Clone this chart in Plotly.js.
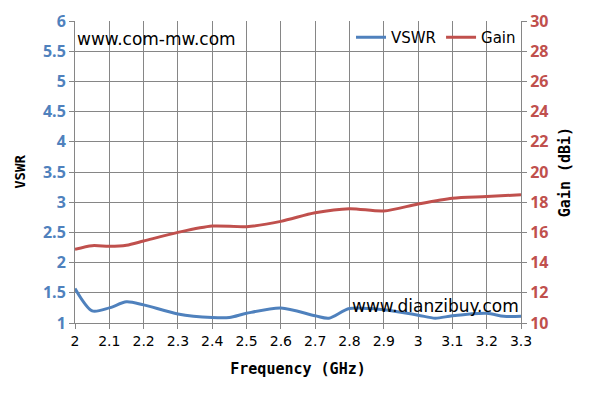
<!DOCTYPE html>
<html><head><meta charset="utf-8">
<script src="https://cdn.plot.ly/plotly-3.0.1.min.js"></script>
<style>html,body{margin:0;padding:0;background:#fff}#c{width:595px;height:404px}</style>
</head><body><div id="c"></div>
<script>
const freqVswr = [2.0, 2.05, 2.1, 2.15, 2.2, 2.3, 2.4, 2.45, 2.5, 2.6, 2.7, 2.74, 2.8, 2.9, 3.0, 3.05, 3.1, 3.2, 3.25, 3.3];
const vswr     = [1.57, 1.20, 1.25, 1.35, 1.30, 1.15, 1.09, 1.09, 1.16, 1.25, 1.12, 1.08, 1.24, 1.22, 1.13, 1.08, 1.12, 1.16, 1.11, 1.11];
const freqGain = [2.0, 2.05, 2.1, 2.15, 2.2, 2.3, 2.4, 2.5, 2.6, 2.7, 2.8, 2.9, 3.0, 3.1, 3.2, 3.3];
const gain     = [14.88, 15.12, 15.08, 15.15, 15.43, 16.0, 16.42, 16.38, 16.73, 17.3, 17.57, 17.42, 17.88, 18.26, 18.37, 18.5];
const xTicks = [2, 2.1, 2.2, 2.3, 2.4, 2.5, 2.6, 2.7, 2.8, 2.9, 3, 3.1, 3.2, 3.3];

const blue = '#4f81bd', red = '#c0504d', grid = '#868686';
const traces = [
  {x: freqVswr, y: vswr, name: 'VSWR', type: 'scatter', mode: 'lines',
   line: {color: blue, width: 3, shape: 'spline', smoothing: 0.8}, yaxis: 'y'},
  {x: freqGain, y: gain, name: 'Gain', type: 'scatter', mode: 'lines',
   line: {color: red, width: 3, shape: 'spline', smoothing: 0.8}, yaxis: 'y2'}
];
const layout = {
  width: 595, height: 404,
  margin: {l: 75, r: 74, t: 21, b: 81},
  paper_bgcolor: '#fff', plot_bgcolor: '#fff',
  showlegend: true,
  legend: {orientation: 'h', x: 1, xanchor: 'right', y: 1, yanchor: 'top',
    bgcolor: 'rgba(0,0,0,0)', font: {family: 'DejaVu Sans', size: 15, color: '#000'}},
  xaxis: {range: [2, 3.3], tickvals: xTicks, ticktext: xTicks.map(String),
    showgrid: true, gridcolor: grid, gridwidth: 1,
    showline: true, linecolor: grid, ticks: 'outside', ticklen: 5, tickcolor: grid,
    zeroline: false, tickfont: {family: 'DejaVu Sans', size: 14, color: '#000'},
    title: {text: 'Frequency (GHz)', font: {family: 'DejaVu Sans Mono', size: 15, color: '#000', weight: 'bold'}, standoff: 15}},
  yaxis: {range: [1, 6], dtick: 0.5, showgrid: true, gridcolor: grid, gridwidth: 1,
    showline: true, linecolor: grid, ticks: 'outside', ticklen: 5, tickcolor: grid,
    zeroline: false, tickfont: {family: 'Open Sans', size: 16, color: blue, weight: 'bold'},
    title: {text: 'VSWR', font: {family: 'DejaVu Sans Mono', size: 14, color: '#000', weight: 'bold'}, standoff: 14}},
  yaxis2: {range: [10, 30], dtick: 2, overlaying: 'y', side: 'right', showgrid: false,
    showline: true, linecolor: grid, ticks: 'outside', ticklen: 5, tickcolor: grid,
    zeroline: false, tickfont: {family: 'Open Sans', size: 16, color: red, weight: 'bold'},
    title: {text: 'Gain (dBi)', font: {family: 'DejaVu Sans Mono', size: 15, color: '#000', weight: 'bold'}, standoff: 12}},
  annotations: [
    {text: 'www.com-mw.com', xref: 'paper', yref: 'paper', x: 0, y: 0.94, xanchor: 'left', yanchor: 'middle',
     showarrow: false, font: {family: 'DejaVu Sans', size: 17, color: '#000'}},
    {text: 'www.dianzibuy.com', xref: 'paper', yref: 'paper', x: 1, y: 0.055, xanchor: 'right', yanchor: 'middle',
     showarrow: false, font: {family: 'DejaVu Sans', size: 17, color: '#000'}}
  ]
};
Plotly.newPlot('c', traces, layout, {displayModeBar: false, staticPlot: true});
</script></body></html>
